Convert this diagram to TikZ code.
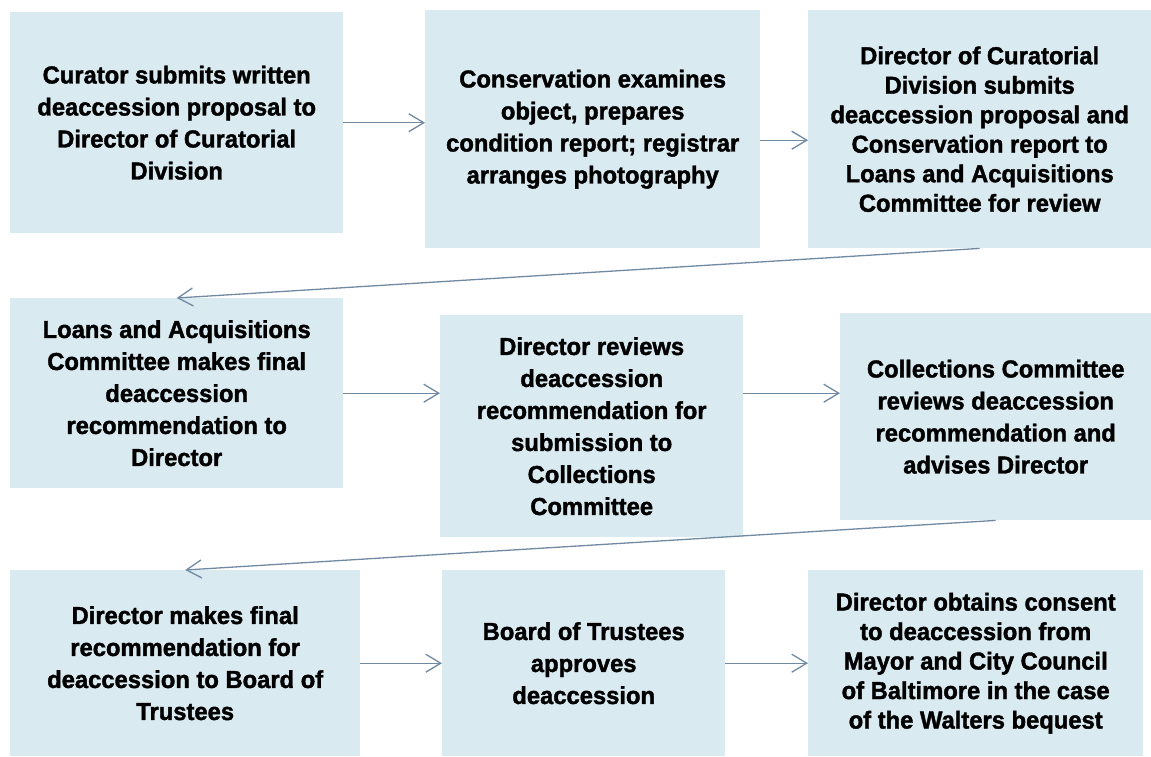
\documentclass[tikz,border=0pt]{standalone}
\usepackage{fontspec}
\setmainfont{Liberation Sans}[BoldFeatures={FakeBold=1.6, FakeStretch=0.97}]
\usetikzlibrary{arrows.meta}

\definecolor{boxblue}{RGB}{218,234,241}
\definecolor{arrowgray}{RGB}{112,138,163}

\begin{document}
\begin{tikzpicture}[x=1pt, y=-1pt,
		card/.style={fill=boxblue, anchor=north west, inner sep=0pt, align=center,
			font=\fontsize{24.5}{32}\selectfont\bfseries},
		tight/.style={font=\fontsize{24.5}{29.5}\selectfont\bfseries},
		flow/.style={draw=arrowgray, line width=1.3pt, -{Straight Barb[length=15pt,width=18pt]}}]
		\useasboundingbox (0, 0) rectangle (1151, 756);
		
		% first row
		\node[card, minimum width=333pt, minimum height=221pt] (curator) at (10, 12)
			{Curator submits written\\deaccession proposal to\\Director of Curatorial\\Division};
		\node[card, minimum width=335pt, minimum height=238pt] (conserv) at (425, 10)
			{Conservation examines\\object, prepares\\condition report; registrar\\arranges photography};
		\node[card, tight, minimum width=343pt, minimum height=238pt] (division) at (808, 10)
			{Director of Curatorial\\Division submits\\deaccession proposal and\\Conservation report to\\Loans and Acquisitions\\Committee for review};
		
		% second row
		\node[card, minimum width=333pt, minimum height=190pt] (loans) at (10, 298)
			{Loans and Acquisitions\\Committee makes final\\deaccession\\recommendation to\\Director};
		\node[card, minimum width=303pt, minimum height=222pt] (review) at (440, 315)
			{Director reviews\\deaccession\\recommendation for\\submission to\\Collections\\Committee};
		\node[card, minimum width=311pt, minimum height=207pt] (collect) at (840, 313)
			{Collections Committee\\reviews deaccession\\recommendation and\\advises Director};
		
		% third row
		\node[card, minimum width=350pt, minimum height=186pt] (final) at (10, 570)
			{Director makes final\\recommendation for\\deaccession to Board of\\Trustees};
		\node[card, minimum width=283pt, minimum height=186pt] (board) at (442, 570)
			{Board of Trustees\\approves\\deaccession};
		\node[card, tight, minimum width=335pt, minimum height=186pt] (consent) at (808, 570)
			{Director obtains consent\\to deaccession from\\Mayor and City Council\\of Baltimore in the case\\of the Walters bequest};
		
		% connectors
		\draw[flow] (curator.east) -- (curator.east -| conserv.west);
		\draw[flow] ([yshift=-11pt]conserv.east) -- ([yshift=-11pt]conserv.east -| division.west);
		\draw[flow] (division.south) -- (loans.north);    % back to row two
		\draw[flow] (loans.east) -- (loans.east -| review.west);
		\draw[flow] (review.east |- loans.east) -- (loans.east -| collect.west);
		\draw[flow] (collect.south) -- (final.north);     % back to row three
		\draw[flow] (final.east) -- (final.east -| board.west);
		\draw[flow] (board.east |- final.east) -- (final.east -| consent.west);
	\end{tikzpicture}
\end{document}
